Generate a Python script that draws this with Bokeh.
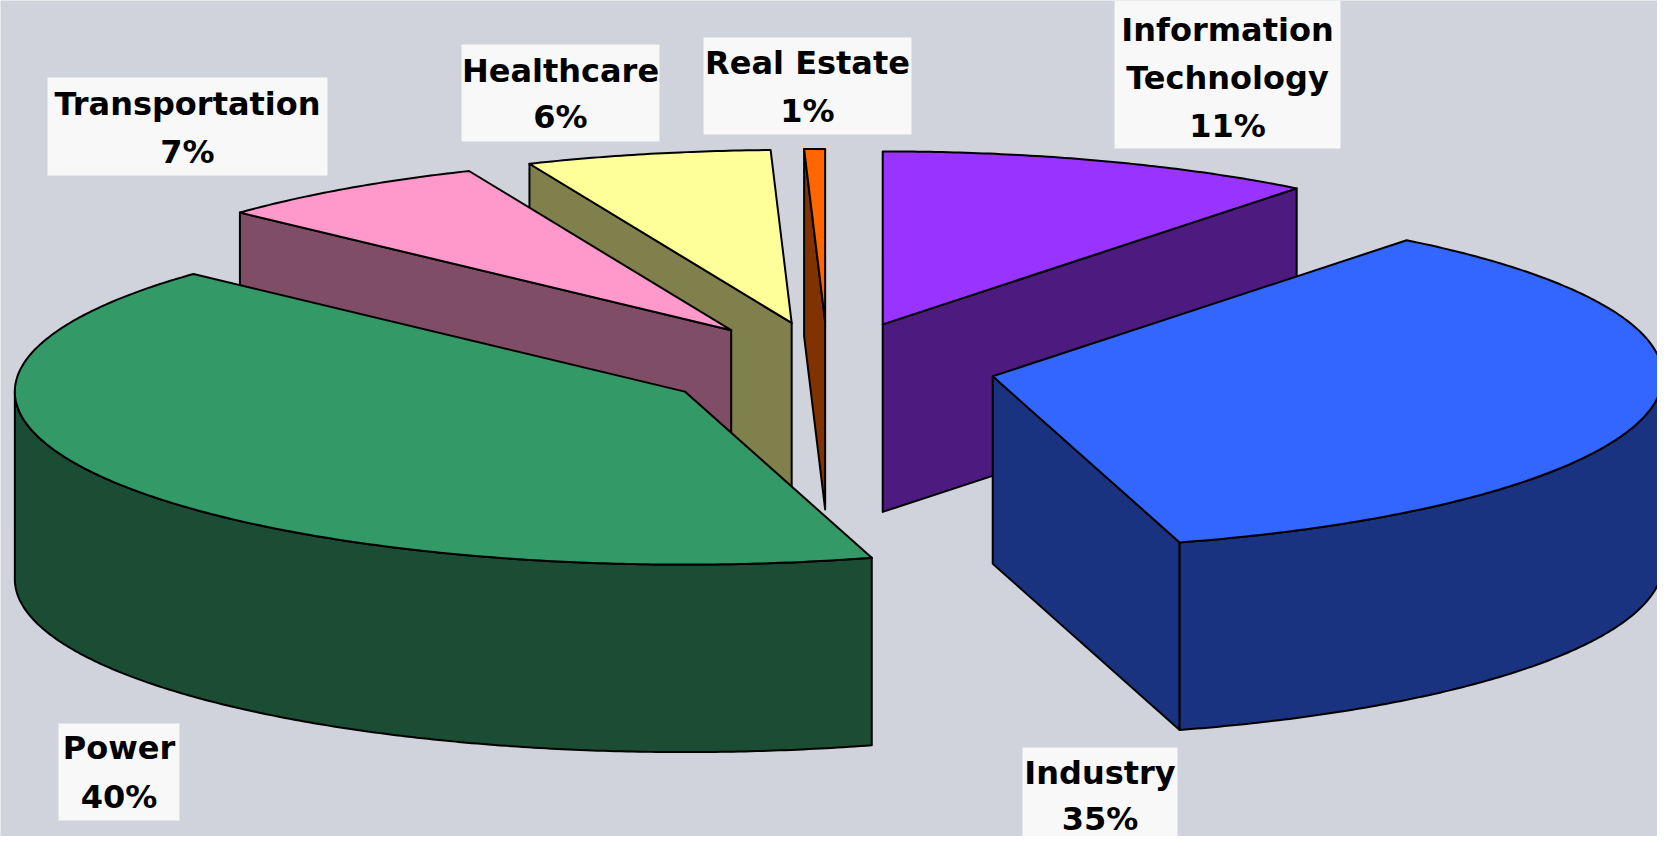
import numpy as np
from bokeh.plotting import figure
from bokeh.models import Range1d
from bokeh.core.properties import value
from bokeh.embed import file_html
from bokeh.resources import INLINE

# ---------------- data ----------------
categories = ["Information Technology", "Industry", "Power",
              "Transportation", "Healthcare", "Real Estate"]
# slice sizes as drawn (percent, clockwise from 12 o'clock)
shares = [10.6, 34.9, 41.4, 6.7, 5.9, 0.5]
# percentage labels as printed on the chart
pct_labels = ["11%", "35%", "40%", "7%", "6%", "1%"]
name_lines = [["Information", "Technology"], ["Industry"], ["Power"],
              ["Transportation"], ["Healthcare"], ["Real Estate"]]
top_colors = ["#9933FF", "#3366FF", "#339966", "#FF99CC", "#FFFF99", "#FF6600"]
side_colors = ["#4D1A80", "#1A3380", "#1A4D33", "#804D66", "#80804D", "#803300"]

# ---------------- layout (pixel space, y down) ----------------
W, H = 1657, 836
CX, CY = 827.3, 367.1      # pie centre
RX, RY = 670.0, 173.0      # ellipse radii of the top face
DEPTH = 187.5              # thickness of the pie
EX, EY = 168.0, 45.7       # explosion offset

label_boxes = {            # left, top, right, bottom
    "Information Technology": (1114, 0, 1340, 148),
    "Industry": (1022, 747, 1177, 836),
    "Power": (58, 723, 179, 820),
    "Transportation": (47, 77, 327, 175),
    "Healthcare": (461, 44, 659, 141),
    "Real Estate": (703, 37, 911, 134),
}
label_centers = {          # vertical centre of each text line
    "Information Technology": [29, 77, 125],
    "Industry": [772, 818],
    "Power": [747, 796],
    "Transportation": [103, 151],
    "Healthcare": [70, 116],
    "Real Estate": [62, 110],
}

BG = "#D0D3DC"

p = figure(width=W, height=H, output_backend="svg", toolbar_location=None,
           x_range=Range1d(0, W), y_range=Range1d(H, 0),
           x_axis_type=None, y_axis_type=None, min_border=0)
p.background_fill_color = BG
p.border_fill_color = BG
p.outline_line_color = None
p.grid.visible = False

total = float(sum(shares))
bounds = np.concatenate([[0.0], np.cumsum(shares) / total * 360.0])


def ell(cx, cy, t_deg):
    t = np.radians(t_deg)
    return cx + RX * np.sin(t), cy - RY * np.cos(t)


slices = []
for i, cat in enumerate(categories):
    a, b = bounds[i], bounds[i + 1]
    mid = np.radians((a + b) / 2)
    vx = CX + EX * np.sin(mid)
    vy = CY - EY * np.cos(mid)
    slices.append((np.cos(mid), i, a, b, vx, vy))

# back slices first
slices.sort(key=lambda s: -s[0])

xs, ys, fills = [], [], []
for _, i, a, b, vx, vy in slices:
    # start cut face
    if np.sin(np.radians(a)) < -1e-6:
        px, py = ell(vx, vy, a)
        xs.append([vx, px, px, vx]); ys.append([vy, py, py + DEPTH, vy + DEPTH])
        fills.append(side_colors[i])
    # end cut face
    if np.sin(np.radians(b)) > 1e-6:
        px, py = ell(vx, vy, b)
        xs.append([vx, px, px, vx]); ys.append([vy, py, py + DEPTH, vy + DEPTH])
        fills.append(side_colors[i])
    # curved outer wall
    lo, hi = max(a, 90.0), min(b, 270.0)
    if hi > lo:
        t = np.linspace(lo, hi, max(3, int((hi - lo) * 2)))
        ax, ay = ell(vx, vy, t)
        xs.append(list(ax) + list(ax[::-1]))
        ys.append(list(ay) + list((ay + DEPTH)[::-1]))
        fills.append(side_colors[i])
    # top face
    t = np.linspace(a, b, max(3, int((b - a) * 2)))
    ax, ay = ell(vx, vy, t)
    xs.append([vx] + list(ax)); ys.append([vy] + list(ay))
    fills.append(top_colors[i])

p.patches(xs=xs, ys=ys, fill_color=fills, line_color="black", line_width=2,
          line_join="round")

# ---------------- labels ----------------
bl, bt, br, bb = [], [], [], []
tx, ty, tt = [], [], []
for i, cat in enumerate(categories):
    l, t, r, b = label_boxes[cat]
    bl.append(l); bt.append(t); br.append(r); bb.append(b)
    lines = name_lines[i] + [pct_labels[i]]
    for line, yc in zip(lines, label_centers[cat]):
        tx.append((l + r) / 2); ty.append(yc); tt.append(line)

p.quad(left=bl, right=br, top=bt, bottom=bb, fill_color="#F8F8F8", line_color=None)
p.text(x=tx, y=ty, text=tt, text_font=value("DejaVu Sans"), text_font_style="bold",
       text_font_size="32px", text_align="center", text_baseline="middle",
       text_color="black")

open("out.html", "w").write(file_html(p, INLINE))
